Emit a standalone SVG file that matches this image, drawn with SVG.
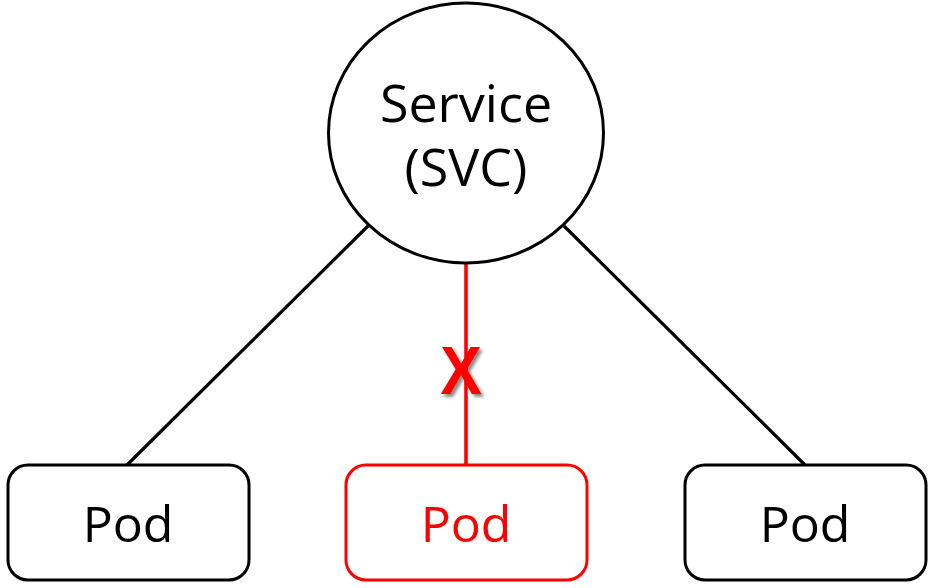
<svg xmlns="http://www.w3.org/2000/svg" width="933" height="588" viewBox="0 0 933 588">
<defs>
<style>
.lbl{font-family:"Open Sans","Noto Sans","DejaVu Sans",sans-serif;text-anchor:middle}
.pod{fill:#fff;stroke:#000;stroke-width:3}
.bad{fill:#fff;stroke:#ff0000;stroke-width:3}
.conn{stroke:#000;stroke-width:3.2;fill:none}
.connbad{stroke:#ff0000;stroke-width:3.6;fill:none}
</style>
<filter id="sh" x="-30%" y="-30%" width="170%" height="170%">
<feDropShadow dx="3" dy="3" stdDeviation="1.5" flood-color="#000" flood-opacity="0.45"/>
</filter>
</defs>
<rect width="933" height="588" fill="#fff"/>
<g id="connectors">
<line class="conn" x1="368" y1="226" x2="127" y2="465"/>
<line class="conn" x1="564" y1="226" x2="805" y2="465"/>
<line class="connbad" x1="466" y1="264" x2="466" y2="465"/>
<text transform="translate(461,394) scale(0.92,1)" x="0" y="0" font-family="'Liberation Sans',Arial,sans-serif" font-weight="bold" font-size="68" fill="#ff0000" text-anchor="middle" filter="url(#sh)">X</text>
</g>
<g id="service">
<ellipse cx="466" cy="133" rx="137.5" ry="130" fill="#fff" stroke="#000" stroke-width="3"/>
<text class="lbl" x="466" y="122" font-size="52">Service</text>
<text class="lbl" x="466" y="186" font-size="52">(SVC)</text>
</g>
<g id="pod1">
<rect class="pod" x="8" y="465" width="241" height="115" rx="20"/>
<text class="lbl" x="128" y="542" font-size="50">Pod</text>
</g>
<g id="pod2">
<rect class="bad" x="346" y="465" width="241" height="115" rx="20"/>
<text class="lbl" x="466" y="542" font-size="50" fill="#ff0000">Pod</text>
</g>
<g id="pod3">
<rect class="pod" x="685" y="465" width="241" height="115" rx="20"/>
<text class="lbl" x="805" y="542" font-size="50">Pod</text>
</g>
</svg>
